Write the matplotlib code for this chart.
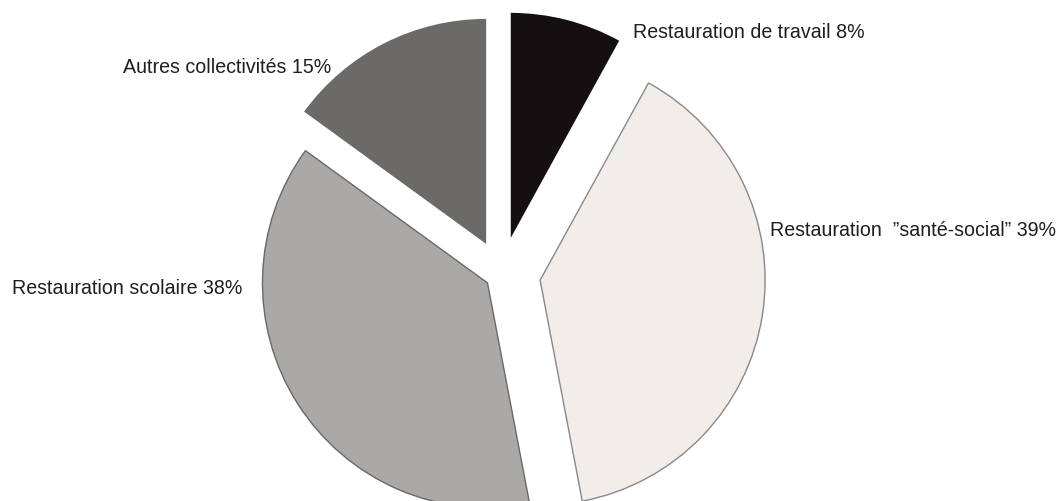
import matplotlib
matplotlib.use("Agg")
import matplotlib.pyplot as plt

categories = ["Restauration de travail", "Restauration  \u201dsant\u00e9-social\u201d",
              "Restauration scolaire", "Autres collectivit\u00e9s"]
values = [8, 39, 38, 15]
labels = [f"{c} {v}%" for c, v in zip(categories, values)]

colors = ["#141012", "#f0edeb", "#aba8a8", "#6c6969"]
edges = ["none", "#8a8888", "#6a6868", "none"]
explode = [37.3, 39.1, 16.6, 33.8]  # pixel offsets

W, H = 1059, 502
fig = plt.figure(figsize=(W / 100, H / 100), dpi=100)
ax = fig.add_axes([0, 0, 1, 1])

wedges, _ = ax.pie(values, colors=colors, startangle=90, counterclock=False,
                   explode=explode, center=(501.5, H - 275), radius=225,
                   wedgeprops=dict(linewidth=1.0))
for w, ec in zip(wedges, edges):
    w.set_edgecolor(ec)
    if ec == "none":
        w.set_linewidth(0)

ax.set_xlim(0, W)
ax.set_ylim(0, H)
ax.set_aspect("auto")
ax.axis("off")

fam, fs = ["Liberation Sans", "DejaVu Sans"], 14.1

# label anchor positions (pixels: left x, baseline y)
label_pos = [(633, 38), (770, 236), (12, 294), (123, 73)]
for lab, (x, y) in zip(labels, label_pos):
    ax.text(x, H - y, lab, ha="left", va="baseline", fontsize=fs,
            family=fam, color="#1e1e1e")

fig.savefig("out.png", dpi=100)
